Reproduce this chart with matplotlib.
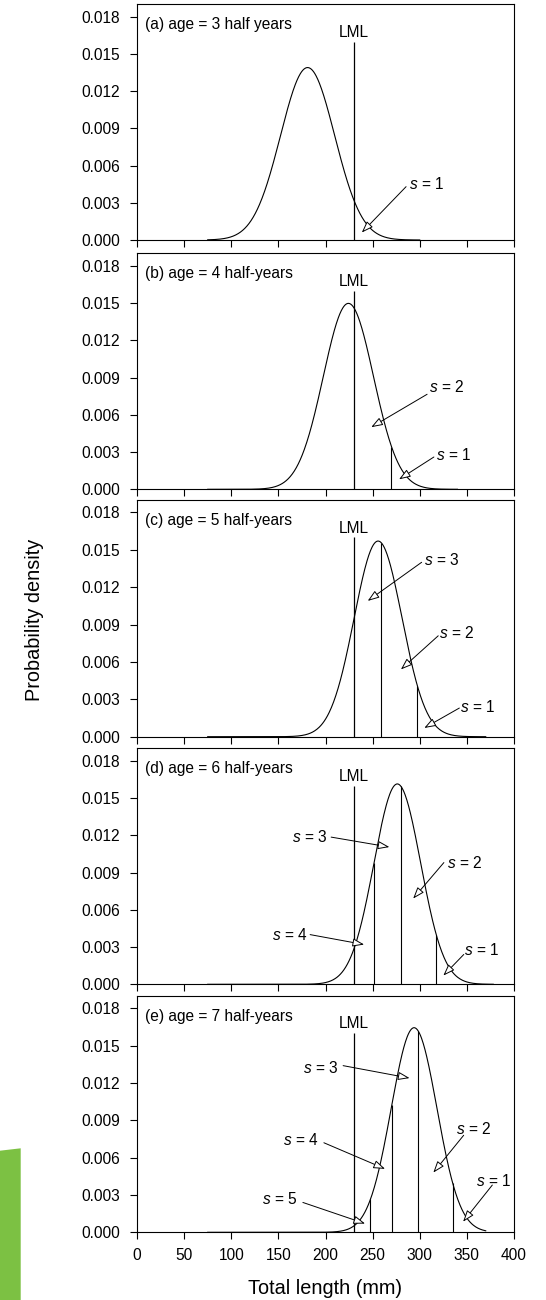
import numpy as np
import matplotlib
matplotlib.use("Agg")
import matplotlib.pyplot as plt
from matplotlib.patches import Polygon

plt.rcParams["font.family"] = ["Liberation Sans", "DejaVu Sans"]
plt.rcParams["mathtext.fontset"] = "custom"
plt.rcParams["mathtext.rm"] = "Liberation Sans"
plt.rcParams["mathtext.it"] = "Liberation Sans:italic"

# ---- data -------------------------------------------------------------
panel_labels = [
    "(a) age = 3 half years",
    "(b) age = 4 half-years",
    "(c) age = 5 half-years",
    "(d) age = 6 half-years",
    "(e) age = 7 half-years",
]
mean_length = [181.0, 224.3, 255.8, 276.2, 294.0]      # mm
sd_length = [28.7, 26.65, 25.4, 24.73, 24.25]          # mm
curve_start = [75, 75, 75, 75, 75]
curve_end = [300, 340, 370, 378, 370]
lml = 230.0                 # legal minimum length (mm)
lml_top = 0.016
cut_points = [
    [],
    [270.0],
    [259.0, 297.5],
    [251.5, 280.0, 317.5],
    [247.6, 270.3, 298.5, 334.8],
]
x_ticks = [0, 50, 100, 150, 200, 250, 300, 350, 400]
y_ticks = [0.000, 0.003, 0.006, 0.009, 0.012, 0.015, 0.018]

# annotation layout: (s value, text x, text y, ha, tail x, tail y, head x, head y)
s_notes = [
    [(1, 289.0, 0.0045, "left", 285.5, 0.0043, 238.5, 0.0006)],
    [(2, 309.6, 0.0082, "left", 307.8, 0.00765, 248.5, 0.0050),
     (1, 317.0, 0.0028, "left", 315.0, 0.0026, 278.0, 0.0008)],
    [(3, 304.0, 0.0142, "left", 302.0, 0.0140, 244.8, 0.0109),
     (2, 320.7, 0.0083, "left", 319.6, 0.0081, 280.0, 0.0054),
     (1, 343.0, 0.0024, "left", 342.0, 0.0023, 304.8, 0.0007)],
    [(3, 202.0, 0.01185, "right", 206.0, 0.01185, 267.8, 0.01105),
     (2, 329.0, 0.0098, "left", 325.6, 0.0098, 293.0, 0.0069),
     (4, 181.0, 0.0040, "right", 183.7, 0.0040, 241.0, 0.0032),
     (1, 347.4, 0.0028, "left", 346.7, 0.0024, 325.0, 0.0007)],
    [(3, 213.9, 0.0132, "right", 218.7, 0.0134, 289.2, 0.0124),
     (4, 192.8, 0.0074, "right", 198.3, 0.0072, 263.2, 0.0051),
     (5, 170.5, 0.0027, "right", 176.0, 0.0024, 242.0, 0.0007),
     (2, 338.0, 0.0083, "left", 346.6, 0.0078, 314.4, 0.0048),
     (1, 359.6, 0.0041, "left", 377.0, 0.0038, 346.0, 0.00085)],
]


def density(x, mu, sd):
    return np.exp(-0.5 * ((x - mu) / sd) ** 2) / (sd * np.sqrt(2 * np.pi))


# ---- figure -----------------------------------------------------------
W, H = 546, 1300
fig = plt.figure(figsize=(W / 100, H / 100), dpi=100)

ax_left, ax_right = 137, 514
panel_px = [(4.3, 240.0), (253.3, 489.3), (500.0, 736.7), (748.3, 984.3), (996.0, 1232.3)]

small = 11.2
for i, (top, bot) in enumerate(panel_px):
    ax = fig.add_axes([ax_left / W, 1 - bot / H, (ax_right - ax_left) / W, (bot - top) / H])
    mu, sd = mean_length[i], sd_length[i]
    xs = np.linspace(curve_start[i], curve_end[i], 500)
    ax.plot(xs, density(xs, mu, sd), color="black", lw=0.8)

    ax.vlines(lml, 0, lml_top, color="black", lw=0.9)
    ax.text(lml, 0.01615, "LML", ha="center", va="bottom", fontsize=small)
    for c in cut_points[i]:
        ax.vlines(c, 0, density(c, mu, sd), color="black", lw=0.8)

    for s, tx, ty, ha, ax0, ay0, hx, hy in s_notes[i]:
        ax.text(tx, ty, r"$s$ = %d" % s, ha=ha, va="center", fontsize=small)
        ax.annotate("", xy=(hx, hy), xytext=(ax0, ay0),
                    arrowprops=dict(arrowstyle="-|>,head_length=0.7,head_width=0.25",
                                    lw=0.7, fc="white", ec="black",
                                    shrinkA=0, shrinkB=0))

    ax.text(0.02, 0.915, panel_labels[i], transform=ax.transAxes,
            ha="left", va="center", fontsize=small)

    ax.set_xlim(0, 400)
    ax.set_ylim(0, 0.019)
    ax.set_xticks(x_ticks)
    ax.set_yticks(y_ticks)
    ax.set_yticklabels(["%.3f" % v for v in y_ticks])
    ax.tick_params(direction="out", length=5, width=0.8, labelsize=small, pad=6)
    ax.tick_params(axis="y", pad=7)
    if i < len(panel_px) - 1:
        ax.tick_params(axis="x", labelbottom=False)
    for sp in ax.spines.values():
        sp.set_linewidth(0.8)

fig.text(325.5 / W, 1 - 1288 / H, "Total length (mm)", ha="center", va="center", fontsize=14.3)
fig.text(35 / W, 1 - 620 / H, "Probability density", ha="center", va="center",
         rotation=90, fontsize=14.3)

# green tab at the lower left edge
fig.patches.append(Polygon([(0, 1 - 1150.7 / H), (20.7 / W, 1 - 1148.3 / H),
                            (20.7 / W, 0), (0, 0)],
                           closed=True, transform=fig.transFigure,
                           facecolor="#7cc143", edgecolor="none"))

fig.savefig("out.png", dpi=100)
